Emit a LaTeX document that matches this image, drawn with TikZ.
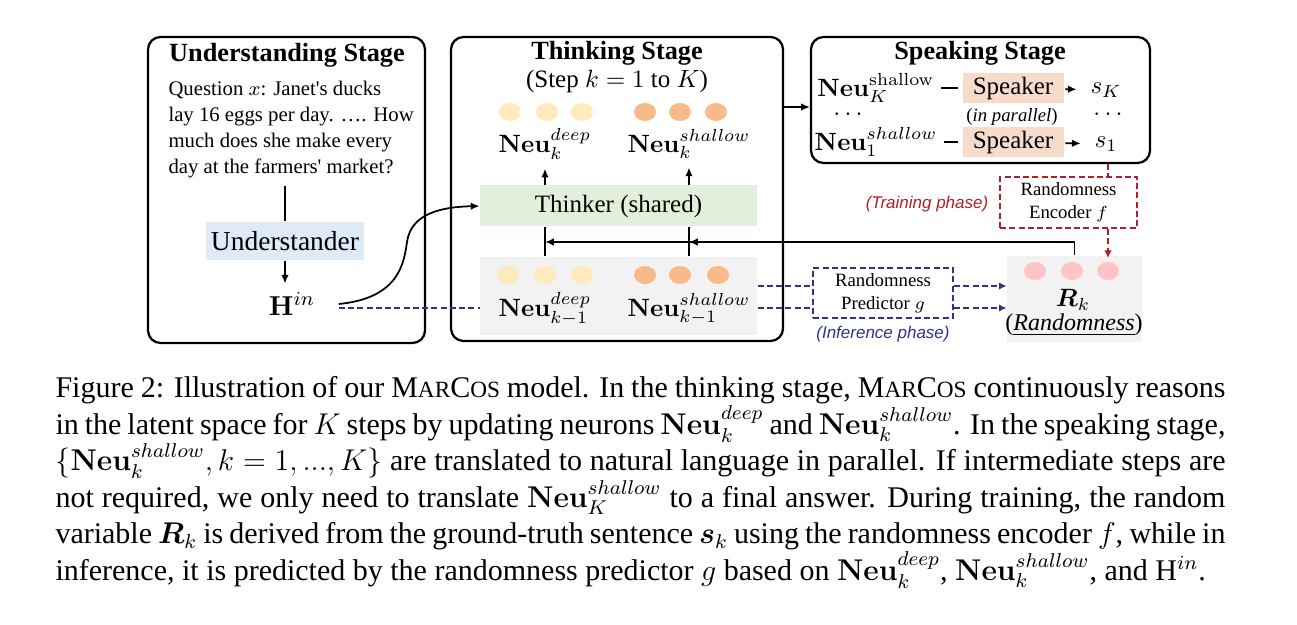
\documentclass[tikz,border=0pt]{standalone}
\usepackage{amsmath}
\usepackage[no-math]{fontspec}
\setmainfont{Liberation Serif}
\newfontfamily\sanf{Liberation Sans}
\usetikzlibrary{arrows.meta}
\definecolor{undblue}{RGB}{222,235,247}
\definecolor{thinkgreen}{RGB}{226,239,218}
\definecolor{spkpeach}{RGB}{248,220,203}
\definecolor{boxgray}{RGB}{242,242,242}
\definecolor{neuY}{RGB}{255,234,190}
\definecolor{neuO}{RGB}{248,186,138}
\definecolor{neuP}{RGB}{255,196,198}
\definecolor{trainred}{RGB}{176,32,42}
\definecolor{inferblue}{RGB}{47,50,140}
\newcommand{\marcos}{M{\fontsize{9.3}{10}\selectfont AR}C{\fontsize{9.3}{10}\selectfont OS}}
\tikzset{
  stage/.style={draw, line width=0.9pt, rounded corners=5pt},
  title/.style={font=\bfseries\fontsize{10.5}{12}\selectfont},
  arr/.style={-{Latex[length=3.5pt,width=3pt]}, line width=0.7pt},
  line/.style={line width=0.7pt},
  reddash/.style={draw=trainred, line width=0.8pt, dash pattern=on 2.4pt off 1.3pt},
  bluedash/.style={draw=inferblue, line width=0.8pt, dash pattern=on 2.4pt off 1.3pt},
  spk/.style={fill=spkpeach, minimum width=40.4pt, minimum height=11.8pt, inner sep=0pt, font=\fontsize{10}{12}\selectfont},
  rbox/.style={align=center, inner sep=0pt, font=\fontsize{7.5}{9.2}\selectfont},
  neu/.style={font=\fontsize{10}{12}\selectfont},
}
\begin{document}
\begin{tikzpicture}[x=0.4pt,y=-0.4pt]
  \useasboundingbox (0,0) rectangle (1297,625);
  % the three stages
  \node[stage, minimum width=110.8pt, minimum height=122.4pt] (und) at (286.5,190) {};
  \node[stage, minimum width=132.8pt, minimum height=121.6pt] (think) at (617,189) {};
  \node[stage, minimum width=135.6pt, minimum height=50.4pt] (speak) at (980.5,100) {};
  \node[title] (undT) at (287,55) {Understanding Stage};
  \node[title] (thinkT) at (617,53) {Thinking Stage};
  \node[title] (speakT) at (980,53) {Speaking Stage};
  \node[font=\fontsize{10}{12}\selectfont] (stepT) at (617,81) {(Step $k=1$ to $K$)};

  % understanding
  \node[anchor=north west, inner sep=0pt, align=left, font=\fontsize{8.3}{10.3}\selectfont] (quest) at (168,81)
    {Question $x$: Janet\textquotesingle s ducks\\lay 16 eggs per day. …. How\\much does she make every\\day at the farmers\textquotesingle{} market?};
  \node[fill=undblue, minimum width=63pt, minimum height=15.2pt, inner sep=0pt, font=\fontsize{11}{12}\selectfont] (underst) at (285,241) {Understander};
  \node[font=\fontsize{11}{12}\selectfont] (hin) at (292,304) {$\mathbf{H}^{in}$};
  \coordinate (hout) at ([xshift=6pt]hin.east);
  \draw[line] ([yshift=-3pt]underst.north |- quest.south) -- (underst.north);
  \draw[arr] (underst.south) -- (underst.south |- hin.north);

  % thinking
  \node[fill=thinkgreen, minimum width=110.8pt, minimum height=16.4pt, font=\fontsize{10}{12}\selectfont] (thinker) at (618.5,206) {Thinker (shared)};
  \node[fill=boxgray, minimum width=110.8pt, minimum height=31.2pt] (prev) at (618.5,296) {};
  \foreach \x in {510,547,582} \fill[neuY] (\x,112) ellipse [x radius=11, y radius=9];
  \foreach \x in {645,680,716} \fill[neuO] (\x,112) ellipse [x radius=11, y radius=9];
  \foreach \x in {508,545,582} \fill[neuY] (\x,275) ellipse [x radius=11, y radius=9];
  \foreach \x in {645,680,718} \fill[neuO] (\x,275) ellipse [x radius=11, y radius=9];
  \node[neu] (dcur) at (545,144) {$\mathbf{Neu}_k^{deep}$};
  \node[neu] (scur) at (689,144) {$\mathbf{Neu}_k^{shallow}$};
  \node[neu] (dprev) at (545,309) {$\mathbf{Neu}_{k-1}^{deep}$};
  \node[neu] (sprev) at (689,309) {$\mathbf{Neu}_{k-1}^{shallow}$};
  \draw[arr] (thinker.north -| dcur) -- (dcur.south);
  \draw[arr] (thinker.north -| scur) -- (scur.south);
  \draw[line] (prev.north -| dprev) -- (thinker.south -| dprev);
  \draw[line] (prev.north -| sprev) -- (thinker.south -| sprev);
  \draw[arr] (hout) .. controls (400,298) and (404,262) .. (407,242)
    .. controls (411,214) and (440,207) .. (thinker.west);

  % speaking
  \coordinate (ts) at (0,107);
  \draw[arr] (think.east |- ts) -- (speak.west |- ts);
  \node[neu] (nK) at (876,88) {$\mathbf{Neu}_K^{\mathrm{shallow}}$};
  \node[spk] (spkK) at (1013,88) {Speaker};
  \node[neu] (sK) at (1106,90) {$s_K$};
  \node[neu] (dotsL) at (848,114) {$\ldots$};
  \node[font=\fontsize{7.5}{9}\selectfont] (par) at (1012,117) {(\textit{in parallel})};
  \node[neu] (dotsR) at (1108,114) {$\ldots$};
  \node[neu] (n1) at (876,142) {$\mathbf{Neu}_1^{shallow}$};
  \node[spk] (spk1) at (1013,142) {Speaker};
  \node[neu] (s1) at (1106,144) {$s_1$};
  \foreach \a/\b in {nK/spkK, n1/spk1}
    \draw[line, line width=0.9pt, shorten <=-1pt, shorten >=1.5pt] (\a) -- (\b);
  \foreach \a/\b in {spkK/sK, spk1/s1}
    \draw[arr, shorten <=0.5pt, shorten >=2pt] (\a) -- (\b);

  % randomness
  \node[fill=boxgray, minimum width=54pt, minimum height=34.4pt] (rk) at (1074.5,299) {};
  \foreach \x in {1035,1072,1108} \fill[neuP] (\x,271) ellipse [x radius=11, y radius=9];
  \node[neu] (rkl) at (1073,300) {$\boldsymbol{R}_k$};
  \node[font=\fontsize{9.6}{12}\selectfont] (rkn) at (1074,325) {(\underline{\textit{Randomness}})};
  \coordinate (fb) at (0,242);
  \draw[arr] (rk.north) |- (dprev |- fb);
  \draw[arr] (rk.north) |- (sprev |- fb);

  \node[rbox, reddash, minimum width=54.8pt, minimum height=20.4pt] (enc) at (1068.5,202.5) {Randomness\\Encoder $f$};
  \node[text=trainred, font=\sanf\itshape\fontsize{6.8}{8}\selectfont] (train) at (927,204) {(Training phase)};
  \coordinate (rx) at (1108,0);
  \draw[reddash] (speak.south -| rx) -- (enc.north -| rx);
  \draw[reddash, -{Latex[length=3pt,width=3pt]}, trainred] (enc.south -| rx) -- ([yshift=-1pt]rk.north -| rx);

  \node[rbox, bluedash, minimum width=56pt, minimum height=20pt] (pred) at (883,293) {Randomness\\Predictor $g$};
  \node[text=inferblue, font=\sanf\itshape\fontsize{6.8}{8}\selectfont] (infer) at (883,334) {(Inference phase)};
  \coordinate (ya) at (0,286);
  \coordinate (yb) at (0,308);
  \draw[bluedash] (hout |- yb) -- (prev.west |- yb);
  \draw[bluedash] (prev.east |- ya) -- (pred.west |- ya);
  \draw[bluedash] (prev.east |- yb) -- (pred.west |- yb);
  \draw[bluedash, -{Latex[length=3pt,width=3pt]}, inferblue] (pred.east |- ya) -- (rk.west |- ya);
  \draw[bluedash, -{Latex[length=3pt,width=3pt]}, inferblue] (pred.east |- yb) -- (rk.west |- yb);

  % caption
  \node[anchor=north west, inner sep=0pt, text width=468pt, align=justify, font=\fontsize{12}{14.6}\selectfont] (cap) at (55,376)
    {Figure 2: Illustration of our \marcos{} model. In the thinking stage, \marcos{} continuously reasons\linebreak
    in the latent space for $K$ steps by updating neurons $\mathbf{Neu}_k^{deep}$ and $\mathbf{Neu}_k^{shallow}$. In the speaking stage,\linebreak
    $\{\mathbf{Neu}_k^{shallow}, k=1,...,K\}$ are translated to natural language in parallel. If intermediate steps are\linebreak
    not required, we only need to translate $\mathbf{Neu}_K^{shallow}$ to a final answer. During training, the random\linebreak
    variable $\boldsymbol{R}_k$ is derived from the ground-truth sentence $\boldsymbol{s}_k$ using the randomness encoder $f$, while in\linebreak
    inference, it is predicted by the randomness predictor $g$ based on $\mathbf{Neu}_k^{deep}$, $\mathbf{Neu}_k^{shallow}$, and H$^{in}$.};
\end{tikzpicture}
\end{document}
